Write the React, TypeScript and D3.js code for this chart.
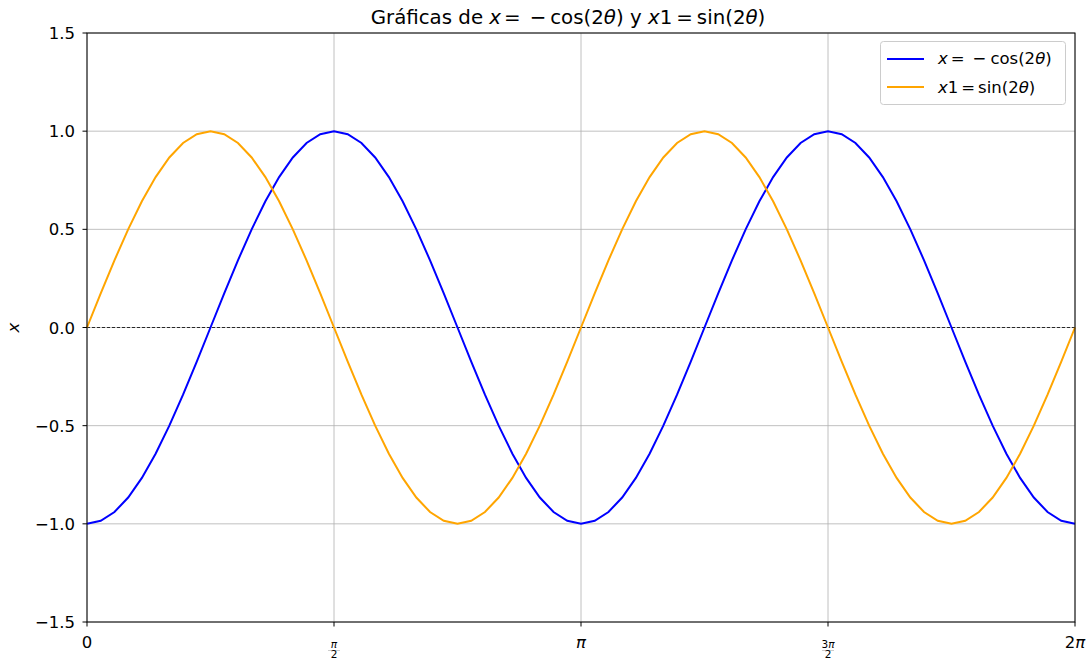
import React from "react";
import * as d3 from "d3";

// theta in degrees (0..360, step 5)
const thetaDeg: number[] = [
  0, 5, 10, 15, 20, 25, 30, 35, 40, 45, 50, 55, 60, 65, 70, 75, 80, 85, 90,
  95, 100, 105, 110, 115, 120, 125, 130, 135, 140, 145, 150, 155, 160, 165, 170, 175, 180,
  185, 190, 195, 200, 205, 210, 215, 220, 225, 230, 235, 240, 245, 250, 255, 260, 265, 270,
  275, 280, 285, 290, 295, 300, 305, 310, 315, 320, 325, 330, 335, 340, 345, 350, 355, 360,
];

// x = -cos(2θ)
const negCos2: number[] = [
  -1, -0.9848, -0.9397, -0.866, -0.766, -0.6428, -0.5, -0.342, -0.1736, 0,
  0.1736, 0.342, 0.5, 0.6428, 0.766, 0.866, 0.9397, 0.9848, 1,
  0.9848, 0.9397, 0.866, 0.766, 0.6428, 0.5, 0.342, 0.1736, 0,
  -0.1736, -0.342, -0.5, -0.6428, -0.766, -0.866, -0.9397, -0.9848, -1,
  -0.9848, -0.9397, -0.866, -0.766, -0.6428, -0.5, -0.342, -0.1736, 0,
  0.1736, 0.342, 0.5, 0.6428, 0.766, 0.866, 0.9397, 0.9848, 1,
  0.9848, 0.9397, 0.866, 0.766, 0.6428, 0.5, 0.342, 0.1736, 0,
  -0.1736, -0.342, -0.5, -0.6428, -0.766, -0.866, -0.9397, -0.9848, -1,
];

// x1 = sin(2θ)
const sin2: number[] = [
  0, 0.1736, 0.342, 0.5, 0.6428, 0.766, 0.866, 0.9397, 0.9848, 1,
  0.9848, 0.9397, 0.866, 0.766, 0.6428, 0.5, 0.342, 0.1736, 0,
  -0.1736, -0.342, -0.5, -0.6428, -0.766, -0.866, -0.9397, -0.9848, -1,
  -0.9848, -0.9397, -0.866, -0.766, -0.6428, -0.5, -0.342, -0.1736, 0,
  0.1736, 0.342, 0.5, 0.6428, 0.766, 0.866, 0.9397, 0.9848, 1,
  0.9848, 0.9397, 0.866, 0.766, 0.6428, 0.5, 0.342, 0.1736, 0,
  -0.1736, -0.342, -0.5, -0.6428, -0.766, -0.866, -0.9397, -0.9848, -1,
  -0.9848, -0.9397, -0.866, -0.766, -0.6428, -0.5, -0.342, -0.1736, 0,
];

const yTicks: number[] = [-1.5, -1.0, -0.5, 0.0, 0.5, 1.0, 1.5];
const xTicks: number[] = [0, 90, 180, 270, 360];

const W = 1089;
const H = 662;
const M = { left: 87, right: 1075, top: 33, bottom: 622 };
const FONT = "DejaVu Sans, sans-serif";
const FS = 16.5;
const TFS = 19.8;
const SFS = 10.5;

function fmtY(v: number) {
  const s = Math.abs(v).toFixed(1);
  return v < 0 ? "\u2212" + s : s;
}

export default function App() {
  const x = d3.scaleLinear().domain([0, 360]).range([M.left, M.right]);
  const y = d3.scaleLinear().domain([-1.5, 1.5]).range([M.bottom, M.top]);

  const pts = thetaDeg.map((t, i) => ({ t, a: negCos2[i], b: sin2[i] }));
  const lineA = d3.line<any>().x((d) => x(d.t)).y((d) => y(d.a));
  const lineB = d3.line<any>().x((d) => x(d.t)).y((d) => y(d.b));

  const tickLabel = (t: number, px: number) => {
    const ty = M.bottom + 26;
    if (t === 0)
      return (
        <text x={px} y={ty} textAnchor="middle" fontSize={FS}>0</text>
      );
    if (t === 180)
      return (
        <text x={px} y={ty} textAnchor="middle" fontSize={FS} fontStyle="italic">π</text>
      );
    if (t === 360)
      return (
        <text x={px} y={ty} textAnchor="middle" fontSize={FS}>
          2<tspan fontStyle="italic">π</tspan>
        </text>
      );
    const num = t === 90 ? "" : "3";
    return (
      <g>
        <line x1={px - 6} x2={px + 6} y1={M.bottom + 28.5} y2={M.bottom + 28.5} stroke="#000" strokeWidth={0.5} strokeOpacity={0.4} />
        <text textAnchor="middle" fontSize={SFS}>
          <tspan x={px} y={M.bottom + 26}>{num}<tspan fontStyle="italic">π</tspan></tspan>
          <tspan x={px} y={M.bottom + 36}>2</tspan>
        </text>
      </g>
    );
  };

  return (
    <svg width={W} height={H} style={{ position: "absolute", left: 0, top: 0, background: "#fff" }} fontFamily={FONT}>
      <rect x={0} y={0} width={W} height={H} fill="#fff" />
      {/* grid */}
      {yTicks.map((v) => (
        <line key={"gy" + v} x1={M.left} x2={M.right} y1={y(v)} y2={y(v)} stroke="#b0b0b0" strokeWidth={0.8} />
      ))}
      {xTicks.map((v) => (
        <line key={"gx" + v} x1={x(v)} x2={x(v)} y1={M.top} y2={M.bottom} stroke="#b0b0b0" strokeWidth={0.8} />
      ))}
      {/* zero dashed line */}
      <line x1={M.left} x2={M.right} y1={y(0)} y2={y(0)} stroke="#000" strokeWidth={0.8} strokeDasharray="3,2" />
      {/* curves */}
      <path d={lineA(pts) || ""} fill="none" stroke="blue" strokeWidth={2} />
      <path d={lineB(pts) || ""} fill="none" stroke="orange" strokeWidth={2} />
      {/* spines */}
      <rect x={M.left} y={M.top} width={M.right - M.left} height={M.bottom - M.top} fill="none" stroke="#000" strokeWidth={1} />
      {/* y ticks */}
      {yTicks.map((v) => (
        <g key={"ty" + v}>
          <line x1={M.left - 4.5} x2={M.left} y1={y(v)} y2={y(v)} stroke="#000" strokeWidth={1} />
          <text x={M.left - 12} y={y(v) + 6} textAnchor="end" fontSize={FS}>{fmtY(v)}</text>
        </g>
      ))}
      {/* x ticks */}
      {xTicks.map((v) => (
        <g key={"tx" + v}>
          <line x1={x(v)} x2={x(v)} y1={M.bottom} y2={M.bottom + 4.5} stroke="#000" strokeWidth={1} />
          {tickLabel(v, x(v))}
        </g>
      ))}
      {/* y label */}
      <text transform={`translate(19,${y(0)}) rotate(-90)`} textAnchor="middle" fontSize={FS} fontStyle="italic">x</text>
      {/* title */}
      <text x={(M.left + M.right) / 2 - 13} y={24} textAnchor="middle" fontSize={TFS}>
        Gráficas de <tspan fontStyle="italic">x</tspan><tspan dx={3}>=</tspan><tspan dx={9}>−</tspan><tspan dx={4}>cos(2</tspan><tspan fontStyle="italic">θ</tspan>) y{" "}
        <tspan fontStyle="italic">x</tspan>1<tspan dx={4}>=</tspan><tspan dx={4}>sin(2</tspan><tspan fontStyle="italic">θ</tspan>)
      </text>
      {/* legend */}
      <g>
        <rect x={880.5} y={41.5} width={185} height={63} rx={3} fill="#fff" fillOpacity={0.8} stroke="#cccccc" strokeWidth={1} />
        <line x1={887} x2={924} y1={59} y2={59} stroke="blue" strokeWidth={2} />
        <line x1={887} x2={924} y1={87} y2={87} stroke="orange" strokeWidth={2} />
        <text x={938} y={64} fontSize={FS}>
          <tspan fontStyle="italic">x</tspan><tspan dx={3}>=</tspan><tspan dx={8}>−</tspan><tspan dx={4}>cos(2</tspan><tspan fontStyle="italic">θ</tspan>)
        </text>
        <text x={938} y={93} fontSize={FS}>
          <tspan fontStyle="italic">x</tspan>1<tspan dx={3}>=</tspan><tspan dx={3}>sin(2</tspan><tspan fontStyle="italic">θ</tspan>)
        </text>
      </g>
    </svg>
  );
}
